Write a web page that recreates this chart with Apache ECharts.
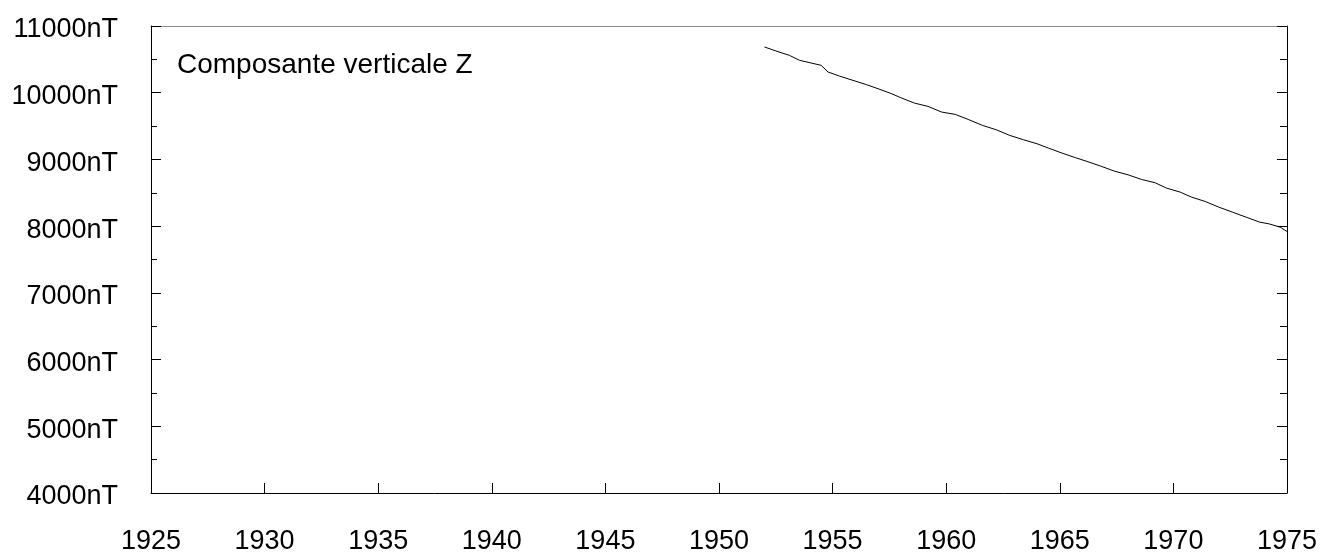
<!DOCTYPE html>
<html>
<head>
<meta charset="utf-8">
<title>Composante verticale Z</title>
<script src="https://cdn.jsdelivr.net/npm/echarts@6/dist/echarts.min.js"></script>
<style>
  html, body { margin: 0; padding: 0; background: #fff; }
  #chart { width: 1320px; height: 555px; }
</style>
</head>
<body>
<div id="chart"></div>
<script>
// Vertical component Z of the geomagnetic field (nT), by decimal year
const years = [
  1952.0, 1952.5, 1953.1, 1953.55, 1954.0, 1954.5, 1954.8, 1955.3, 1955.9, 1956.5,
  1957.0, 1957.6, 1958.0, 1958.6, 1959.2, 1959.8, 1960.4, 1961.0, 1961.6, 1962.2,
  1962.8, 1963.4, 1964.0, 1964.5, 1965.1, 1965.7, 1966.2, 1966.8, 1967.4, 1968.0,
  1968.6, 1969.2, 1969.7, 1970.3, 1970.8, 1971.4, 1972.0, 1972.6, 1973.2, 1973.8,
  1974.2, 1974.7, 1975.0
];
const zValues = [
  10686, 10626, 10560, 10485, 10450, 10410, 10310, 10250, 10185, 10120,
  10060, 9985, 9925, 9845, 9795, 9710, 9675, 9595, 9510, 9445,
  9360, 9295, 9235, 9170, 9095, 9025, 8970, 8900, 8825, 8770,
  8700, 8650, 8570, 8510, 8435, 8370, 8285, 8210, 8135, 8060,
  8035, 7985, 7920
];
const yearTicks = { min: 1925, max: 1975, step: 5 };
const zTicks = { min: 4000, max: 11000, step: 1000 };
const unit = 'nT';
const panelLabel = 'Composante verticale Z';

const FONT = '"Liberation Sans", Arial, sans-serif';
const points = years.map((y, i) => [y, zValues[i]]);

const chart = echarts.init(document.getElementById('chart'), null, { renderer: 'canvas' });
chart.setOption({
  animation: false,
  backgroundColor: '#fff',
  grid: { left: 151, right: 33, top: 26, bottom: 61, containLabel: false },
  xAxis: [
    {
      type: 'value', position: 'bottom',
      min: yearTicks.min, max: yearTicks.max, interval: yearTicks.step,
      axisLine: { show: true, onZero: false, lineStyle: { color: '#000', width: 1 } },
      axisTick: { show: true, inside: true, length: 10, lineStyle: { color: '#000' } },
      axisLabel: { margin: 35, color: '#000', fontSize: 27, fontFamily: FONT,
                   formatter: v => String(v) },
      splitLine: { show: false }
    },
    {
      type: 'value', position: 'top',
      min: yearTicks.min, max: yearTicks.max, interval: yearTicks.step,
      axisLine: { show: true, onZero: false, lineStyle: { color: '#8a8a8a', width: 1 } },
      axisTick: { show: false }, axisLabel: { show: false }, splitLine: { show: false }
    }
  ],
  yAxis: [
    {
      type: 'value', position: 'left',
      min: zTicks.min, max: zTicks.max, interval: zTicks.step,
      axisLine: { show: true, onZero: false, lineStyle: { color: '#000', width: 1 } },
      axisTick: { show: true, inside: true, length: 10, lineStyle: { color: '#000' } },
      minorTick: { show: true, splitNumber: 2, length: 6, lineStyle: { color: '#000' } },
      axisLabel: {
        margin: 33, color: '#000', fontSize: 27, fontFamily: FONT,
        formatter: v => '{v|' + v + unit + '}',
        rich: { v: { color: '#000', fontSize: 27, fontFamily: FONT, padding: [8, 0, 0, 0] } }
      },
      splitLine: { show: false }
    },
    {
      type: 'value', position: 'right',
      min: zTicks.min, max: zTicks.max, interval: zTicks.step,
      axisLine: { show: true, onZero: false, lineStyle: { color: '#000', width: 1 } },
      axisTick: { show: true, inside: true, length: 10, lineStyle: { color: '#000' } },
      minorTick: { show: true, splitNumber: 2, length: 7, lineStyle: { color: '#000' } },
      axisLabel: { show: false },
      splitLine: { show: false }
    }
  ],
  graphic: [
    {
      type: 'text', left: 177, top: 51,
      style: { text: panelLabel, fill: '#000', font: '28px ' + FONT }
    }
  ],
  series: [
    {
      type: 'line', xAxisIndex: 0, yAxisIndex: 0,
      data: points, showSymbol: false, symbol: 'none', clip: false,
      lineStyle: { color: '#000', width: 1 }
    }
  ]
});
</script>
</body>
</html>
